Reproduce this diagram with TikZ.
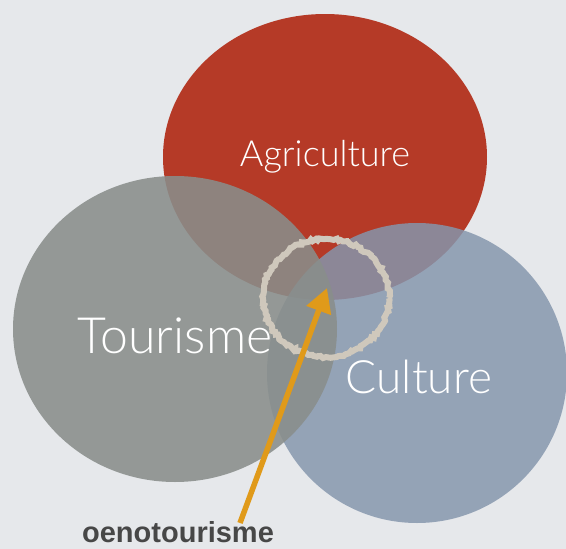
\documentclass[tikz,border=0pt]{standalone}
\usepackage{fontspec}
\setmainfont{Liberation Sans}
\newfontfamily\gill{Lato Light}
\usetikzlibrary{arrows.meta,decorations.pathmorphing,shapes.geometric}
\definecolor{bgc}{HTML}{E6E8EB}
\definecolor{agc}{HTML}{B53A27}
\definecolor{toc}{HTML}{898E8B}
\definecolor{cuc}{HTML}{8596AD}
\definecolor{ringc}{HTML}{CFC8BC}
\definecolor{arrc}{HTML}{E09A1A}
\definecolor{txtc}{HTML}{474747}
\tikzset{
  lbl/.style={text=white, font=\gill\fontsize{#1}{#1}\selectfont},
}
\begin{document}
\begin{tikzpicture}[x=1pt,y=-1pt]
\fill[bgc] (0,0) rectangle (566,549);
\useasboundingbox (0,0) rectangle (566,549);
% ellipses
\fill[agc] (325,157) ellipse [x radius=162, y radius=143];
\fill[cuc, opacity=0.84] (417,373) ellipse [x radius=150, y radius=150];
\fill[toc, opacity=0.88] (175,329) ellipse [x radius=162, y radius=153];
% labels
\node[lbl=36] (agri) at (325,157) {Agriculture};
\node[lbl=50] (tour) at (175,336) {Tourisme};
\node[lbl=46] (cult) at (419,377) {Culture};
% ring
\draw[ringc, line width=6pt, decorate, decoration={random steps, segment length=2.5pt, amplitude=1.3pt}]
  (326,298) ellipse [x radius=63, y radius=59];
% label and arrow
\node[text=txtc, font=\bfseries\fontsize{29}{29}\selectfont, anchor=base, inner sep=0pt] (oeno) at (178,542) {oenotourisme};
\coordinate (tail) at (240,523);
\coordinate (tip) at (327,288);
\draw[arrc, line width=5.5pt, -{Triangle[length=24pt, width=25pt]}] (tail) -- (tip);
\end{tikzpicture}
\end{document}
